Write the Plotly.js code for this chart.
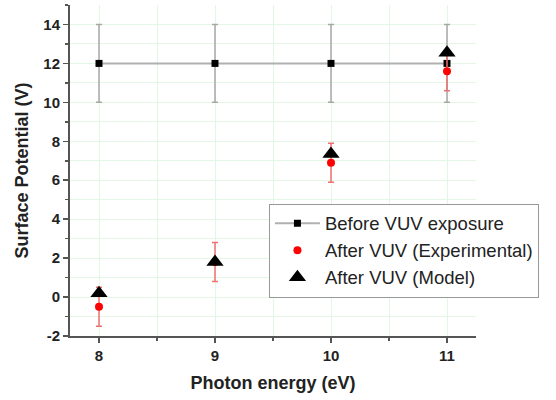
<!DOCTYPE html>
<html><head><meta charset="utf-8">
<script src="https://cdn.plot.ly/plotly-3.0.1.min.js"></script>
<style>body{margin:0;background:#fff}#c{width:556px;height:400px}</style>
</head><body><div id="c"></div>
<script>
const energy = [8, 9, 10, 11];
const beforeVals = [12, 12, 12, 12];
const beforeErr = [2, 2, 2, 2];
const expVals = [-0.5, 1.8, 6.9, 11.6];
const expErr = [1, 1, 1, 1];
const modelVals = [0.2, 1.8, 7.35, 12.55];
const xTicks = [8, 9, 10, 11];
const yTicks = [-2, 0, 2, 4, 6, 8, 10, 12, 14];

const traces = [
  {x: energy, y: beforeVals, name: 'Before VUV exposure', mode: 'lines+markers',
   line: {color: '#b0b0b0', width: 2}, marker: {symbol: 'square', size: 7, color: '#000'},
   error_y: {type: 'data', array: beforeErr, color: '#a8a8a8', thickness: 1.5, width: 3}},
  {x: energy, y: expVals, name: 'After VUV (Experimental)', mode: 'markers',
   marker: {symbol: 'circle', size: 8, color: '#ff0000'},
   error_y: {type: 'data', array: expErr, color: '#f07070', thickness: 1.5, width: 3}},
  {x: energy, y: modelVals, name: 'After VUV (Model)', mode: 'markers',
   marker: {symbol: 'triangle-up', size: 15, color: '#000'}}
];

const layout = {
  width: 556, height: 400,
  margin: {l: 70, r: 80, t: 5, b: 64},
  paper_bgcolor: '#fff', plot_bgcolor: '#fff',
  font: {family: 'Liberation Sans, Arial, sans-serif', color: '#222'},
  showlegend: true,
  legend: {x: 0.49, y: 0.40, xanchor: 'left', yanchor: 'top',
    bordercolor: '#999', borderwidth: 1, bgcolor: '#fff',
    font: {size: 18.5, color: '#222'}, tracegroupgap: 0, itemwidth: 45},
  xaxis: {range: [7.75, 11.25], tickvals: xTicks, ticktext: xTicks.map(String),
    showgrid: false, zeroline: false, showline: true, linecolor: '#555', linewidth: 2,
    ticks: 'outside', ticklen: 5, tickwidth: 1.5, tickcolor: '#555',
    tickfont: {size: 15, family: 'Liberation Sans, Arial', weight: 'bold', color: '#222'},
    minor: {dtick: 0.5, tick0: 8, showgrid: true, gridcolor: '#e4f7e4', gridwidth: 1, ticks: 'outside', ticklen: 3, tickcolor: '#555'},
    title: {text: 'Photon energy (eV)', font: {size: 18, weight: 'bold', color: '#222'}, standoff: 13}},
  yaxis: {range: [-2, 15], tickvals: yTicks, ticktext: yTicks.map(String),
    showgrid: false, zeroline: false, showline: true, linecolor: '#555', linewidth: 2,
    ticks: 'outside', ticklen: 5, tickwidth: 1.5, tickcolor: '#555',
    tickfont: {size: 15, family: 'Liberation Sans, Arial', weight: 'bold', color: '#222'},
    minor: {dtick: 1, tick0: 0, showgrid: true, gridcolor: '#e4f7e4', gridwidth: 1, ticks: 'outside', ticklen: 3, tickcolor: '#555'},
    title: {text: 'Surface Potential (V)', font: {size: 18, weight: 'bold', color: '#222'}, standoff: 10}}
};
Plotly.newPlot('c', traces, layout, {displayModeBar: false, staticPlot: true});
</script></body></html>
